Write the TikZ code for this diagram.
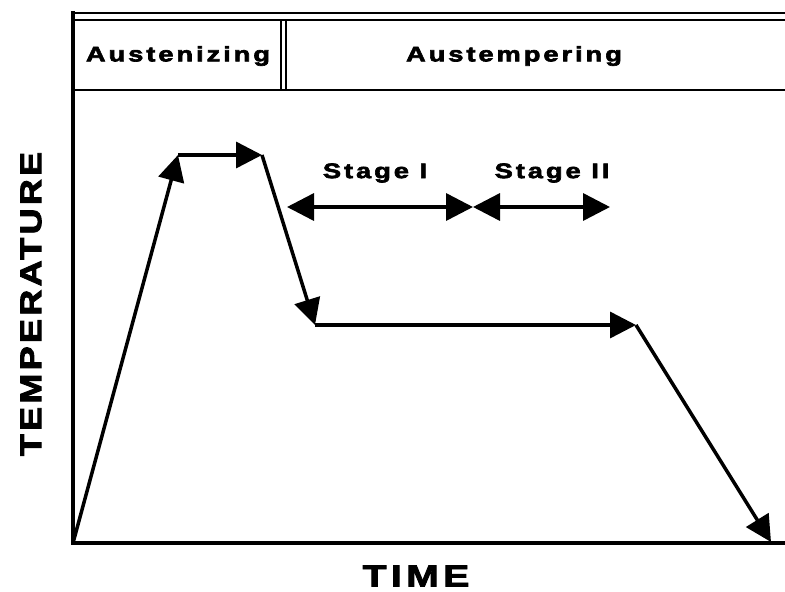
\documentclass[tikz,border=0pt]{standalone}
\usepackage{fontspec}
\setmainfont{Liberation Sans}
\usetikzlibrary{arrows.meta}
\newfontfamily\lblfont[LetterSpace=14,FakeStretch=1.3,FakeBold=3]{Liberation Sans Bold}
\newfontfamily\timefont[LetterSpace=15,FakeStretch=1.3,FakeBold=3]{Liberation Sans Bold}
\newfontfamily\tempfont[LetterSpace=11,FakeStretch=1.2,FakeBold=3]{Liberation Sans Bold}
\tikzset{
  axisline/.style={line width=3.5pt, line cap=rect},
  rule/.style={line width=2.2pt},
  flow/.style={line width=3.5pt, -{Triangle[length=26pt,width=26pt]}},
  span/.style={line width=3.5pt, {Triangle[length=27pt,width=27pt]}-{Triangle[length=27pt,width=27pt]}},
  hdr/.style={font=\lblfont\fontsize{21}{23}\selectfont, inner sep=0pt},
  stg/.style={font=\lblfont\fontsize{21}{23}\selectfont, inner sep=0pt},
  timelbl/.style={font=\timefont\fontsize{30}{32}\selectfont, inner sep=0pt},
  templbl/.style={font=\tempfont\fontsize{30}{32}\selectfont, inner sep=0pt}
}
\begin{document}
\begin{tikzpicture}[x=1pt,y=-1pt]
\useasboundingbox (0,0) rectangle (785,592);
% frame
\coordinate (tl) at (73,13);
\coordinate (tr) at (785,13);
\coordinate (bl) at (73,543);
\coordinate (br) at (785,543);
\coordinate (t2l) at (73,20);
\coordinate (t2r) at (785,20);
\coordinate (hl) at (73,90);
\coordinate (hr) at (785,90);
\coordinate (d1t) at (281,20);
\coordinate (d1b) at (281,90);
\coordinate (d2t) at (286,20);
\coordinate (d2b) at (286,90);
\draw[rule] (tl) -- (tr);
\draw[rule] (t2l) -- (t2r);
\draw[rule] (hl) -- (hr);
\draw[rule] (d1t) -- (d1b);
\draw[rule] (d2t) -- (d2b);
\draw[axisline] (tl) -- (bl) -- (br);
% header labels
\node[hdr] (aus) at (178,56) {Austenizing};
\node[hdr] (aust) at (514,56) {Austempering};
% curve
\coordinate (p0) at (73,543);
\coordinate (p1) at (178,155);
\coordinate (p2) at (262,155);
\coordinate (p3) at (315,325);
\coordinate (p4) at (636,325);
\coordinate (p5) at (771,542);
\draw[flow] (p0) -- (p1);
\draw[flow] (p1) -- (p2);
\draw[flow] (p2) -- (p3);
\draw[flow] (p3) -- (p4);
\draw[flow] (p4) -- (p5);
% stages
\coordinate (s0) at (287,207);
\coordinate (s1) at (473,207);
\coordinate (s2) at (610,207);
\draw[span] (s0) -- (s1);
\draw[span] (s1) -- (s2);
\node[stg] (st1) at (375,173) {Stage I};
\node[stg] (st2) at (552,173) {Stage II};
% axis labels
\node[templbl, rotate=90] (temp) at (31,304) {TEMPERATURE};
\node[timelbl] (time) at (416,576) {TIME};
\end{tikzpicture}
\end{document}
